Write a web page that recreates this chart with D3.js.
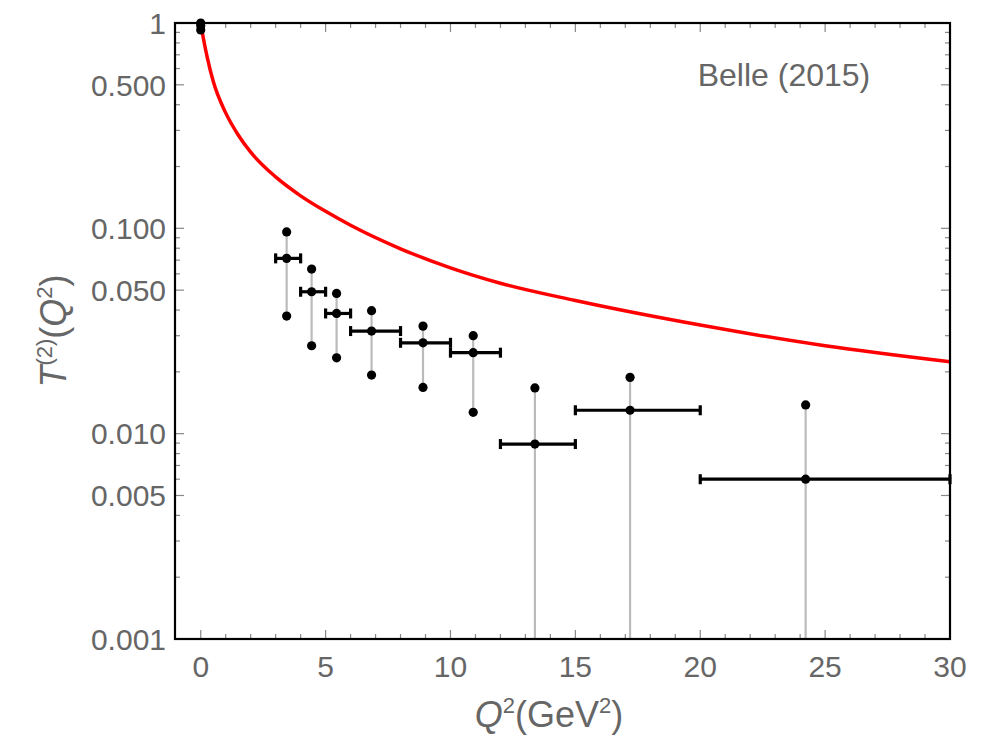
<!DOCTYPE html>
<html>
<head>
<meta charset="utf-8">
<script src="https://cdn.jsdelivr.net/npm/d3@7"></script>
<style>
  body { margin: 0; background: #fff; }
  text { font-family: "Liberation Sans", Arial, sans-serif; }
</style>
</head>
<body>
<script>
// Belle (2015) data points: bin center, bin edges, value and bounds
const q2 = [0, 3.44, 4.44, 5.44, 6.84, 8.90, 10.91, 13.38, 17.19, 24.22];
const binLo = [0, 3, 4, 5, 6, 8, 10, 12, 15, 20];
const binHi = [0, 4, 5, 6, 8, 10, 12, 15, 20, 30];
const tVal = [0.97, 0.0714, 0.0491, 0.0385, 0.0316, 0.0277, 0.0248, 0.0089, 0.0130, 0.0060];
const tUp = [1.0, 0.096, 0.0633, 0.0482, 0.0397, 0.0334, 0.030, 0.0167, 0.0188, 0.0138];
const tDown = [0.925, 0.0374, 0.0268, 0.0234, 0.0193, 0.0168, 0.0127, null, null, null];

// red theory curve
const curveQ2 = [0, 0.1, 0.25, 0.5, 1, 1.5, 2, 3, 4, 5, 6, 8, 10, 12, 15, 20, 25, 30];
const curveT = [1.0, 0.85, 0.69, 0.52, 0.365, 0.285, 0.235, 0.178, 0.144, 0.121, 0.1035,
    0.0795, 0.0642, 0.054, 0.0445, 0.0338, 0.0268, 0.0224];

const xTicks = [0, 5, 10, 15, 20, 25, 30];
const yTicks = [1, 0.5, 0.1, 0.05, 0.01, 0.005, 0.001];
const yTickLabels = ["1", "0.500", "0.100", "0.050", "0.010", "0.005", "0.001"];

const W = 988, H = 739;
const margin = { top: 23, right: 38, bottom: 100, left: 175 };
const x0 = margin.left, x1 = W - margin.right;
const y0 = margin.top, y1 = H - margin.bottom;

const svg = d3.select("body").append("svg")
    .attr("width", W)
    .attr("height", H);

const x = d3.scaleLinear().domain([-1.03, 30]).range([x0, x1]);
const y = d3.scaleLog().domain([0.001, 1]).range([y1, y0]);

const tickColor = "#888";
const labelColor = "#666";

// minor ticks
const xMinor = d3.range(0, 31, 1).filter(v => v % 5 !== 0);
const yMinor = [];
[0.001, 0.01, 0.1].forEach(d => {
    for (let k = 2; k <= 9; k++) {
        const v = d * k;
        if (!yTicks.some(t => Math.abs(t - v) < 1e-9)) yMinor.push(v);
    }
});

const ticks = svg.append("g").attr("stroke", tickColor).attr("stroke-width", 1.2);

function xTickMarks(vals, len) {
    vals.forEach(v => {
        ticks.append("line").attr("x1", x(v)).attr("x2", x(v)).attr("y1", y1).attr("y2", y1 - len);
        ticks.append("line").attr("x1", x(v)).attr("x2", x(v)).attr("y1", y0).attr("y2", y0 + len);
    });
}
function yTickMarks(vals, len) {
    vals.forEach(v => {
        ticks.append("line").attr("x1", x0).attr("x2", x0 + len).attr("y1", y(v)).attr("y2", y(v));
        ticks.append("line").attr("x1", x1).attr("x2", x1 - len).attr("y1", y(v)).attr("y2", y(v));
    });
}
xTickMarks(xTicks, 9);
xTickMarks(xMinor, 5);
yTickMarks(yTicks, 9);
yTickMarks(yMinor, 5);

// tick labels
svg.append("g").selectAll("text")
    .data(xTicks)
    .enter().append("text")
    .attr("x", d => x(d))
    .attr("y", y1 + 38)
    .attr("text-anchor", "middle")
    .attr("fill", labelColor)
    .attr("font-size", 30)
    .text(d => d);

svg.append("g").selectAll("text")
    .data(yTicks)
    .enter().append("text")
    .attr("x", x0 - 9)
    .attr("y", d => y(d))
    .attr("dy", "0.36em")
    .attr("text-anchor", "end")
    .attr("fill", labelColor)
    .attr("font-size", 30)
    .text((d, i) => yTickLabels[i]);

// axis titles
const xt = svg.append("text")
    .attr("x", 549)
    .attr("y", 727)
    .attr("text-anchor", "middle")
    .attr("fill", labelColor)
    .attr("font-size", 36);
xt.append("tspan").attr("font-style", "italic").text("Q");
xt.append("tspan").attr("font-size", 22).attr("dy", -14).text("2");
xt.append("tspan").attr("dy", 14).text("(GeV");
xt.append("tspan").attr("font-size", 22).attr("dy", -14).text("2");
xt.append("tspan").attr("dy", 14).text(")");

const yt = svg.append("text")
    .attr("transform", "translate(66," + ((y0 + y1) / 2) + ") rotate(-90)")
    .attr("text-anchor", "middle")
    .attr("fill", labelColor)
    .attr("font-size", 36);
yt.append("tspan").attr("font-style", "italic").text("T");
yt.append("tspan").attr("font-size", 22).attr("dy", -14).text("(2)");
yt.append("tspan").attr("dy", 14).text("(");
yt.append("tspan").attr("font-style", "italic").text("Q");
yt.append("tspan").attr("font-size", 22).attr("dy", -14).text("2");
yt.append("tspan").attr("dy", 14).text(")");

// legend label
svg.append("text")
    .attr("x", 784)
    .attr("y", 86)
    .attr("text-anchor", "middle")
    .attr("fill", labelColor)
    .attr("font-size", 32)
    .text("Belle (2015)");

// theory curve
const line = d3.line()
    .x((d, i) => x(curveQ2[i]))
    .y(d => y(d))
    .curve(d3.curveMonotoneX);

svg.append("path")
    .datum(curveT)
    .attr("d", line)
    .attr("fill", "none")
    .attr("stroke", "#ff0000")
    .attr("stroke-width", 3.5);

// vertical uncertainty bands (gray)
const pts = q2.map((q, i) => ({ q: q, lo: binLo[i], hi: binHi[i], v: tVal[i], up: tUp[i], down: tDown[i] }));

svg.append("g").selectAll("line")
    .data(pts)
    .enter().append("line")
    .attr("x1", d => x(d.q))
    .attr("x2", d => x(d.q))
    .attr("y1", d => y(d.up))
    .attr("y2", d => d.down === null ? y1 : y(d.down))
    .attr("stroke", "#bbb")
    .attr("stroke-width", 2.2);

// horizontal bin bars with caps
const bars = svg.append("g").attr("stroke", "#000").attr("stroke-width", 3.2);
pts.filter(d => d.hi > d.lo).forEach(d => {
    bars.append("line").attr("x1", x(d.lo)).attr("x2", x(d.hi)).attr("y1", y(d.v)).attr("y2", y(d.v));
    bars.append("line").attr("x1", x(d.lo)).attr("x2", x(d.lo)).attr("y1", y(d.v) - 5).attr("y2", y(d.v) + 5);
    bars.append("line").attr("x1", x(d.hi)).attr("x2", x(d.hi)).attr("y1", y(d.v) - 5).attr("y2", y(d.v) + 5);
});

// dots: central values and bounds
const dots = [];
pts.forEach(d => {
    dots.push([d.q, d.v]);
    dots.push([d.q, d.up]);
    if (d.down !== null) dots.push([d.q, d.down]);
});
svg.append("g").selectAll("circle")
    .data(dots)
    .enter().append("circle")
    .attr("cx", d => x(d[0]))
    .attr("cy", d => y(d[1]))
    .attr("r", 4.6)
    .attr("fill", "#000");

// frame
svg.append("rect")
    .attr("x", x0)
    .attr("y", y0)
    .attr("width", x1 - x0)
    .attr("height", y1 - y0)
    .attr("fill", "none")
    .attr("stroke", "#000")
    .attr("stroke-width", 2.2);
</script>
</body>
</html>
